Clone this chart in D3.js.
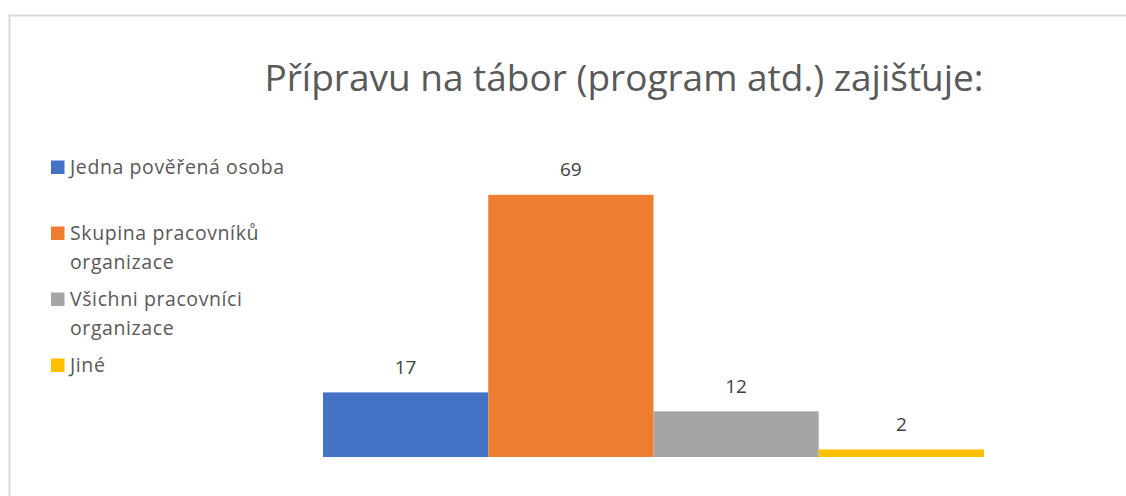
<!DOCTYPE html>
<html>
<head>
<meta charset="utf-8">
<script src="https://cdn.jsdelivr.net/npm/d3@7"></script>
<style>
  body { margin:0; background:#fff; }
  svg text { font-family: "Open Sans", "Noto Sans", sans-serif; }
</style>
</head>
<body>
<div id="chart"></div>
<script>
const titleText = "Přípravu na tábor (program atd.) zajišťuje:";
const categories = ["Jedna pověřená osoba", "Skupina pracovníků organizace", "Všichni pracovníci organizace", "Jiné"];
const legendLines = [["Jedna pověřená osoba"], ["Skupina pracovníků", "organizace"], ["Všichni pracovníci", "organizace"], ["Jiné"]];
const values = [17, 69, 12, 2];
const colors = ["#4472C4", "#ED7D31", "#A5A5A5", "#FFC000"];

const W = 1126, H = 496;
const svg = d3.select("#chart").append("svg")
  .attr("width", W).attr("height", H);

// chart border
svg.append("rect")
  .attr("x", 9.5).attr("y", 15.5)
  .attr("width", 1140).attr("height", 520)
  .attr("fill", "#fff").attr("stroke", "#D9D9D9").attr("stroke-width", 2);

// title
svg.append("text")
  .attr("x", 624).attr("y", 91)
  .attr("text-anchor", "middle")
  .attr("font-size", 37)
  .attr("fill", "#595959")
  .text(titleText);

// scales
const x = d3.scaleBand().domain(categories).range([323, 984]).padding(0);
const y = d3.scaleLinear().domain([0, 80]).range([457, 153]);

// bars
svg.selectAll(".bar")
  .data(values)
  .enter()
  .append("rect")
  .attr("class", "bar")
  .attr("x", (d,i) => x(categories[i]))
  .attr("width", x.bandwidth())
  .attr("y", d => y(d))
  .attr("height", d => y(0) - y(d))
  .attr("fill", (d,i) => colors[i]);

// value labels
svg.selectAll(".lbl")
  .data(values)
  .enter()
  .append("text")
  .attr("class", "lbl")
  .attr("x", (d,i) => x(categories[i]) + x.bandwidth()/2)
  .attr("y", d => y(d) - 18.5)
  .attr("text-anchor", "middle")
  .attr("font-size", 19)
  .attr("fill", "#404040")
  .text(d => d);

// legend
const legend = svg.append("g");
legendLines.forEach((lines, i) => {
  const cy = 167 + i*66;
  legend.append("rect")
    .attr("x", 51).attr("y", cy - 6.5)
    .attr("width", 13.5).attr("height", 13.5)
    .attr("fill", colors[i]);
  lines.forEach((ln, j) => {
    legend.append("text")
      .attr("x", 70).attr("y", cy + j*29 + 7)
      .attr("font-size", 19.5)
      .attr("letter-spacing", 0.6)
      .attr("fill", "#595959")
      .text(ln);
  });
});
</script>
</body>
</html>
